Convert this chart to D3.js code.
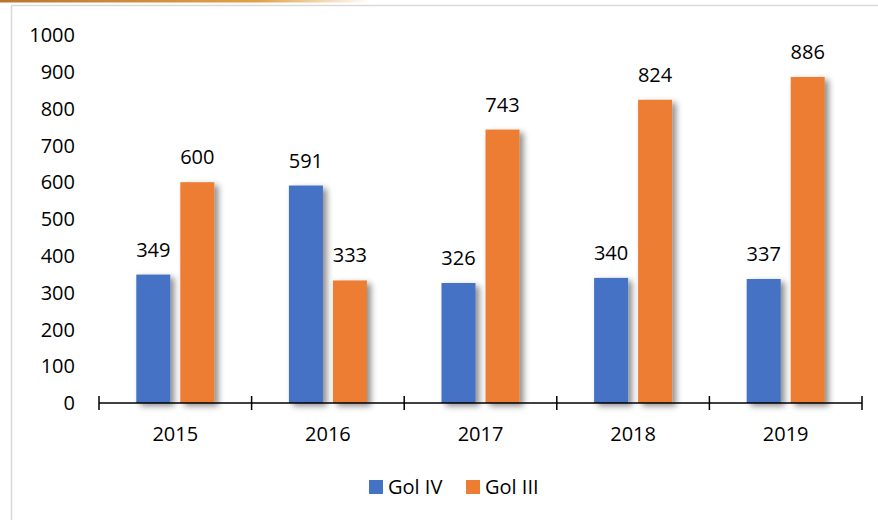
<!DOCTYPE html>
<html>
<head>
<meta charset="utf-8">
<script src="https://cdn.jsdelivr.net/npm/d3@7"></script>
<style>
  body { margin: 0; background: #fff; }
  svg { display: block; font-family: 'Open Sans', sans-serif; }
</style>
</head>
<body>
<svg id="chart"></svg>
<script>
const years = ['2015', '2016', '2017', '2018', '2019'];
const seriesNames = ['Gol IV', 'Gol III'];
const golIV = [349, 591, 326, 340, 337];
const golIII = [600, 333, 743, 824, 886];
const yTicks = [0, 100, 200, 300, 400, 500, 600, 700, 800, 900, 1000];
const colors = ['#4472C4', '#ED7D31'];

const width = 878, height = 520;
const svg = d3.select('#chart').attr('width', width).attr('height', height);

// page decoration: gold strip top-left and light frame
const defs = svg.append('defs');
const grad = defs.append('linearGradient').attr('id', 'strip');
grad.append('stop').attr('offset', '0%').attr('stop-color', '#b9752e');
grad.append('stop').attr('offset', '70%').attr('stop-color', '#e0a24a');
grad.append('stop').attr('offset', '100%').attr('stop-color', '#ffffff');
svg.append('rect').attr('x', 0).attr('y', 0).attr('width', 370).attr('height', 2.5).attr('fill', 'url(#strip)');
svg.append('line').attr('x1', 11).attr('x2', width).attr('y1', 5.5).attr('y2', 5.5).attr('stroke', '#d9d9d9').attr('stroke-width', 1.5);
svg.append('line').attr('x1', 11.5).attr('x2', 11.5).attr('y1', 5).attr('y2', height).attr('stroke', '#d9d9d9').attr('stroke-width', 1.5);

const shadow = defs.append('filter').attr('id', 'shadow')
    .attr('x', '-20%').attr('y', '-10%').attr('width', '160%').attr('height', '130%');
shadow.append('feDropShadow')
    .attr('dx', 4).attr('dy', 3).attr('stdDeviation', 3)
    .attr('flood-color', '#000').attr('flood-opacity', 0.45);

const margin = { left: 99, right: 16, top: 35, bottom: 117 };
const x0 = d3.scaleBand().domain(years).range([margin.left, width - margin.right]).padding(0);
const y = d3.scaleLinear().domain([0, 1000]).range([height - margin.bottom, margin.top]);

const barW = 34, gap = 10;
const data = years.map((yr, i) => ({ year: yr, values: [golIV[i], golIII[i]] }));

// y labels (no axis line)
svg.append('g').selectAll('text').data(yTicks).join('text')
    .attr('x', 75).attr('y', d => y(d)).attr('dy', '0.36em')
    .attr('text-anchor', 'end').attr('font-size', 20).attr('fill', '#000')
    .text(d => d);

// bars
const groups = svg.append('g').selectAll('g').data(data).join('g');
groups.each(function (d) {
    const cx = x0(d.year) + x0.bandwidth() / 2;
    const g = d3.select(this);
    d.values.forEach((v, s) => {
        const bx = cx - (barW * 2 + gap) / 2 + s * (barW + gap);
        g.append('rect')
            .attr('x', bx).attr('y', y(v))
            .attr('width', barW).attr('height', y(0) - y(v))
            .attr('fill', colors[s]).attr('filter', 'url(#shadow)');
        g.append('text')
            .attr('x', bx + barW / 2).attr('y', y(v) - 18)
            .attr('text-anchor', 'middle').attr('font-size', 20).attr('fill', '#000')
            .text(v);
    });
});

// x axis with ticks at category boundaries
const xAxis = svg.append('g').attr('transform', `translate(0,${y(0)})`);
xAxis.append('line').attr('x1', margin.left).attr('x2', width - margin.right)
    .attr('stroke', '#000').attr('stroke-width', 1.5);
const bounds = years.map(d => x0(d)).concat([width - margin.right]);
xAxis.selectAll('.tick').data(bounds).join('line')
    .attr('x1', d => d).attr('x2', d => d).attr('y1', -7).attr('y2', 7)
    .attr('stroke', '#000').attr('stroke-width', 1.5);
xAxis.selectAll('text').data(years).join('text')
    .attr('x', d => x0(d) + x0.bandwidth() / 2).attr('y', 38)
    .attr('text-anchor', 'middle').attr('font-size', 20).attr('fill', '#000')
    .text(d => d);

// legend
const legendX = [369, 466];
const legend = svg.append('g').selectAll('g').data(seriesNames).join('g')
    .attr('transform', (d, i) => `translate(${legendX[i]},480)`);
legend.append('rect').attr('width', 14).attr('height', 14).attr('fill', (d, i) => colors[i]);
legend.append('text').attr('x', 19).attr('y', 7).attr('dy', '0.36em')
    .attr('font-size', 20).attr('fill', '#000').text(d => d);
</script>
</body>
</html>
